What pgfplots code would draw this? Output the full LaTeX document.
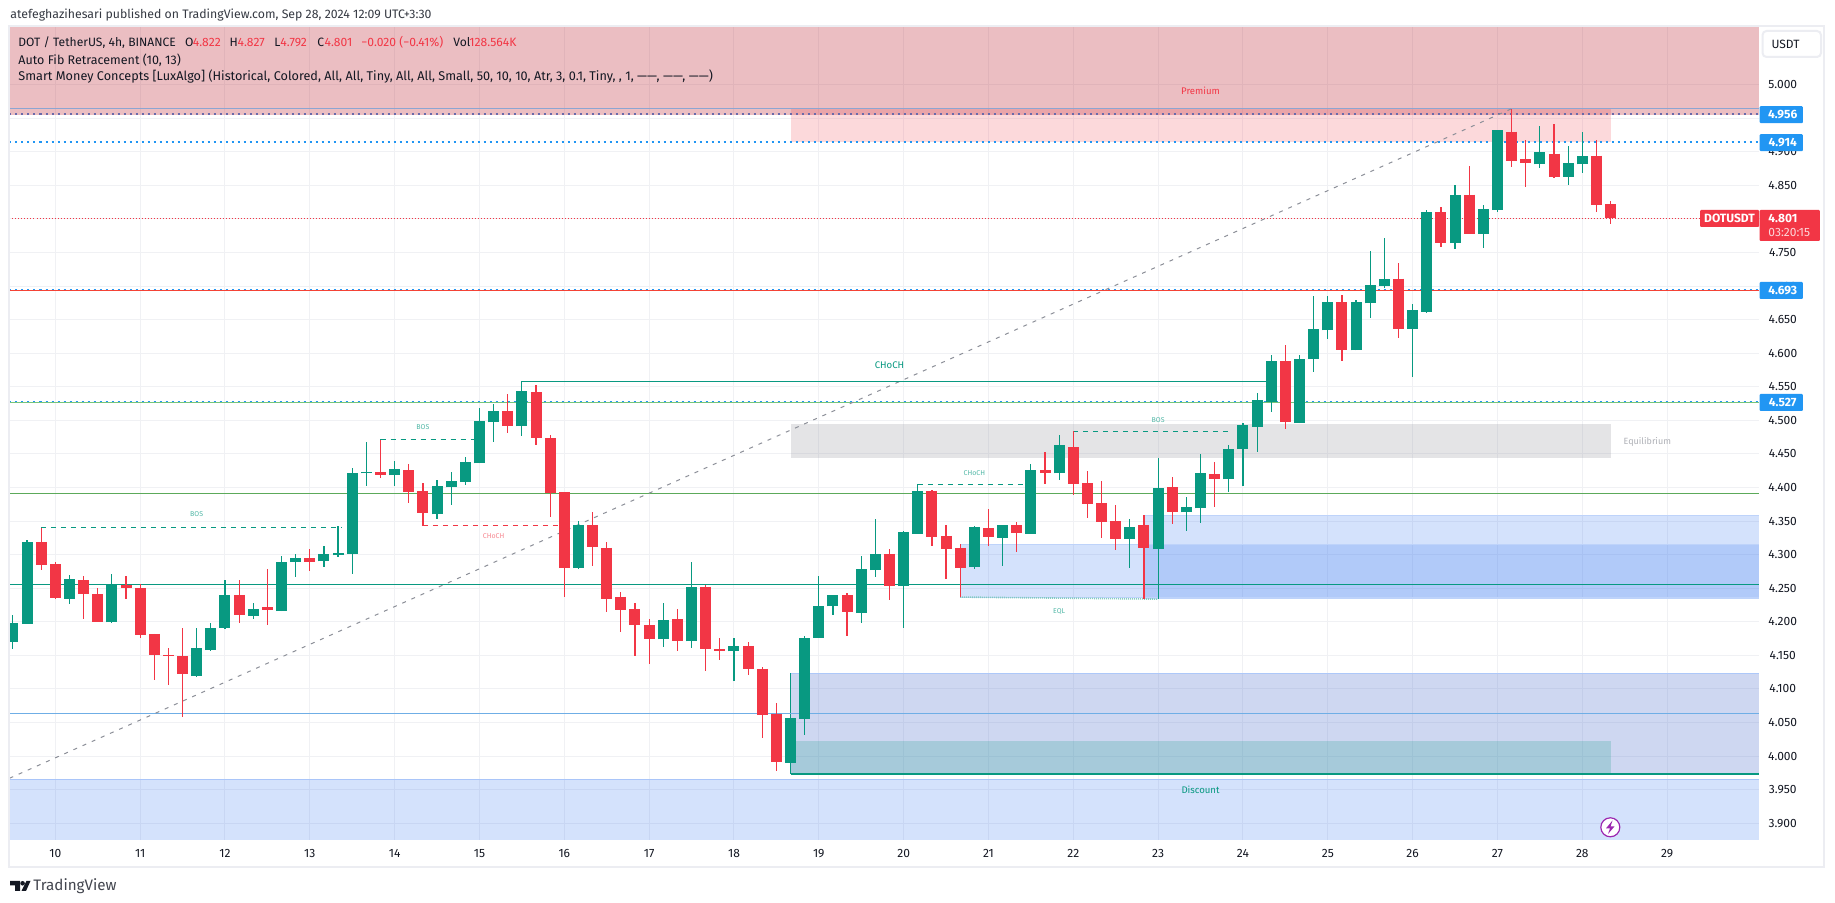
\documentclass[border=0pt]{standalone}
\usepackage{fontspec}
\usepackage{pgfplots}
\usepackage{pgfplotstable}
\pgfplotsset{compat=1.18}
\setmainfont{Fira Sans}

\definecolor{upc}{HTML}{089981}
\definecolor{downc}{HTML}{F23645}
\definecolor{gridc}{HTML}{F0F1F4}
\definecolor{framec}{HTML}{ECEDF2}
\definecolor{txtc}{HTML}{131722}
\definecolor{tagc}{HTML}{2196F3}
\definecolor{zonec}{RGB}{40,110,240}
\definecolor{greyc}{HTML}{787B86}
\definecolor{premc}{RGB}{190,42,54}
\definecolor{demandc}{RGB}{63,99,203}
\definecolor{sblue}{RGB}{111,174,230}
\definecolor{sgreen}{RGB}{92,170,90}
\definecolor{sgreenb}{RGB}{118,196,122}
\definecolor{sred}{RGB}{244,67,54}
\definecolor{dotmix}{RGB}{105,105,170}
\definecolor{topline}{RGB}{140,165,210}
\definecolor{boltc}{RGB}{156,39,176}

% 4h candles, k counts candles from the start of day 10
\pgfplotstableread{
k o h l c
-3 4.170 4.210 4.159 4.198
-2 4.197 4.322 4.197 4.319
1 4.234 4.270 4.226 4.264
4 4.199 4.271 4.198 4.256
10 4.119 4.191 4.118 4.161
11 4.158 4.198 4.156 4.191
12 4.191 4.262 4.189 4.240
14 4.209 4.228 4.204 4.219
16 4.216 4.298 4.216 4.289
17 4.289 4.301 4.267 4.295
19 4.290 4.313 4.281 4.301
20 4.299 4.342 4.296 4.302
21 4.301 4.429 4.271 4.421
22 4.421 4.467 4.402 4.423
24 4.418 4.439 4.402 4.427
27 4.360 4.411 4.353 4.402
28 4.400 4.423 4.374 4.409
29 4.408 4.445 4.403 4.438
30 4.436 4.518 4.436 4.499
31 4.497 4.524 4.467 4.514
33 4.491 4.558 4.476 4.543
37 4.280 4.350 4.278 4.344
43 4.174 4.228 4.162 4.203
45 4.171 4.289 4.161 4.252
48 4.156 4.176 4.112 4.164
52 3.990 4.057 3.990 4.057
53 4.055 4.179 4.031 4.176
54 4.176 4.268 4.176 4.223
55 4.223 4.240 4.210 4.240
57 4.213 4.298 4.198 4.278
58 4.277 4.353 4.267 4.301
60 4.253 4.335 4.191 4.334
61 4.331 4.405 4.331 4.395
65 4.281 4.342 4.278 4.341
67 4.325 4.344 4.283 4.344
69 4.331 4.435 4.331 4.426
71 4.421 4.478 4.411 4.463
76 4.323 4.353 4.280 4.341
78 4.308 4.444 4.234 4.399
80 4.363 4.386 4.335 4.371
81 4.369 4.450 4.347 4.421
83 4.412 4.463 4.393 4.458
84 4.457 4.496 4.402 4.493
85 4.490 4.540 4.453 4.530
86 4.528 4.597 4.512 4.588
88 4.496 4.598 4.496 4.592
89 4.591 4.685 4.572 4.636
90 4.634 4.685 4.621 4.676
92 4.604 4.679 4.604 4.676
93 4.674 4.752 4.653 4.701
94 4.700 4.772 4.697 4.710
96 4.636 4.673 4.564 4.664
97 4.662 4.813 4.661 4.810
99 4.764 4.851 4.755 4.836
101 4.778 4.820 4.756 4.814
102 4.813 4.933 4.810 4.932
105 4.881 4.938 4.875 4.900
107 4.863 4.909 4.851 4.883
108 4.881 4.930 4.869 4.894
}\uptbl

\pgfplotstableread{
k o h l c
-1 4.319 4.340 4.277 4.284
0 4.286 4.289 4.234 4.235
2 4.262 4.268 4.204 4.241
3 4.241 4.250 4.200 4.200
5 4.255 4.268 4.234 4.250
6 4.250 4.257 4.176 4.180
7 4.182 4.182 4.113 4.150
8 4.150 4.161 4.106 4.149
9 4.149 4.191 4.058 4.122
13 4.240 4.262 4.198 4.210
15 4.222 4.278 4.195 4.217
18 4.295 4.308 4.275 4.289
23 4.423 4.471 4.414 4.418
25 4.426 4.435 4.377 4.393
26 4.395 4.406 4.342 4.362
32 4.514 4.539 4.481 4.491
34 4.542 4.552 4.463 4.473
35 4.473 4.478 4.356 4.392
36 4.393 4.393 4.237 4.280
38 4.344 4.363 4.283 4.311
39 4.310 4.319 4.214 4.234
40 4.237 4.244 4.185 4.217
41 4.219 4.228 4.149 4.195
42 4.195 4.204 4.137 4.174
44 4.204 4.219 4.156 4.171
46 4.252 4.255 4.127 4.159
47 4.159 4.176 4.143 4.156
49 4.164 4.170 4.121 4.130
50 4.130 4.133 4.027 4.061
51 4.063 4.079 3.978 3.991
56 4.240 4.243 4.179 4.214
59 4.301 4.308 4.232 4.253
62 4.395 4.397 4.313 4.326
63 4.328 4.344 4.264 4.308
64 4.310 4.316 4.237 4.280
66 4.339 4.368 4.313 4.326
68 4.344 4.348 4.304 4.332
70 4.426 4.453 4.405 4.421
72 4.460 4.484 4.389 4.405
73 4.406 4.424 4.354 4.375
74 4.377 4.409 4.325 4.348
75 4.350 4.374 4.307 4.323
77 4.344 4.359 4.234 4.310
79 4.400 4.415 4.345 4.363
82 4.420 4.438 4.371 4.412
87 4.588 4.612 4.487 4.497
91 4.676 4.686 4.589 4.604
95 4.711 4.734 4.622 4.636
98 4.810 4.817 4.758 4.764
100 4.836 4.878 4.777 4.777
103 4.930 4.964 4.877 4.886
104 4.889 4.918 4.848 4.883
106 4.897 4.941 4.861 4.862
109 4.894 4.917 4.810 4.820
110 4.822 4.827 4.792 4.801
}\downtbl

\newcommand{\fs}[1]{\fontsize{#1}{#1}\selectfont}
% zone: style, x1, x2, y1, y2
\newcommand{\zone}[5]{\addplot[draw=none,#1] coordinates {(#2,#4) (#3,#4) (#3,#5) (#2,#5)} --cycle;}
% level line: style, x1, x2, y
\newcommand{\level}[4]{\addplot[#1] coordinates {(#2,#4) (#3,#4)};}

\begin{document}
\begin{tikzpicture}
\fill[white] (0,0) rectangle (917.5pt,451.5pt);
\begin{axis}[
  at={(4.75pt,31.5pt)}, anchor=south west, scale only axis,
  width=874.75pt, height=406.5pt,
  xmin=-3.24, xmax=120.5, ymin=3.8751, ymax=5.0857,
  axis line style={draw=none}, major tick length=0pt,
  xtick={0,6,...,114},
  xticklabels={10,11,12,13,14,15,16,17,18,19,20,21,22,23,24,25,26,27,28,29},
  ytick={3.9,3.95,4,4.05,4.1,4.15,4.2,4.25,4.3,4.35,4.4,4.45,4.5,4.55,4.6,4.65,4.7,4.75,4.8,4.85,4.9,4.95,5},
  yticklabel pos=right,
  yticklabel style={/pgf/number format/fixed,/pgf/number format/fixed zerofill,/pgf/number format/precision=3,/pgf/number format/assume math mode=true,anchor=center,xshift=11.85pt,font=\fs{6pt},text=txtc,inner sep=0pt},
  xticklabel style={anchor=center,yshift=-6.6pt,font=\fs{6pt},text=txtc,inner sep=0pt},
  grid=major, grid style={color=gridc,line width=0.5pt},
]
% zones
\zone{fill=zonec,fill opacity=0.2}{-3.24}{120.5}{3.8751}{3.9655}
\zone{fill=demandc,fill opacity=0.25}{52}{120.5}{3.973}{4.1232}
\zone{fill=upc,fill opacity=0.2}{52}{110}{3.973}{4.0225}
\zone{fill=zonec,fill opacity=0.2}{77}{120.5}{4.234}{4.358}
\zone{fill=zonec,fill opacity=0.2}{64}{120.5}{4.2368}{4.315}
\zone{fill=greyc,fill opacity=0.2}{52}{110}{4.4436}{4.4948}
\zone{fill=downc,fill opacity=0.19}{52}{110}{4.914}{4.964}
\zone{fill=premc,fill opacity=0.3}{-3.24}{120.5}{4.954}{5.0857}
% zone borders
\level{color=zonec!40,line width=0.5pt}{-3.24}{120.5}{3.9655}
\level{color=zonec!38,line width=0.5pt}{52}{120.5}{4.1232}
\level{color=zonec!30,line width=0.5pt}{77}{120.5}{4.358}
\level{color=zonec!30,line width=0.5pt}{77}{120.5}{4.234}
\level{color=zonec!30,line width=0.5pt}{64}{120.5}{4.315}
\level{color=zonec!30,line width=0.5pt}{64}{120.5}{4.2368}
% levels
\level{color=upc,line width=0.75pt}{52}{120.5}{3.973}
\addplot[color=upc,line width=0.5pt] coordinates {(52,3.973) (52,4.1232)};
\level{color=sblue,line width=0.6pt}{-3.24}{120.5}{4.0637}
\level{color=upc,line width=0.7pt}{-3.24}{120.5}{4.2556}
\level{color=sgreen,line width=0.6pt}{-3.24}{120.5}{4.391}
\level{color=sgreenb,line width=0.7pt}{-3.24}{120.5}{4.5265}
\level{color=tagc,line width=0.4pt,dash pattern=on 1pt off 2pt}{-3.24}{120.5}{4.5285}
\level{color=sred,line width=0.75pt}{-3.24}{120.5}{4.6935}
\level{color=tagc,line width=0.4pt,dash pattern=on 1pt off 2pt}{-3.24}{120.5}{4.6955}
\level{color=downc,line width=0.5pt,dash pattern=on 0.5pt off 1pt}{-3.24}{120.5}{4.801}
\level{color=tagc,line width=1pt,dash pattern=on 1pt off 2pt}{-3.24}{120.5}{4.9145}
\level{color=dotmix,line width=0.9pt,dash pattern=on 1pt off 2pt}{-3.24}{120.5}{4.956}
\level{color=topline,line width=0.7pt}{-3.24}{120.5}{4.964}
% fib line
\addplot[color=greyc!85,line width=0.5pt,dash pattern=on 2pt off 3pt] coordinates {(-3.24,3.967) (103,4.964)};
% structure lines
\level{color=upc,line width=0.5pt,dash pattern=on 2.5pt off 2.5pt}{-1}{20.3}{4.340}
\level{color=upc,line width=0.5pt,dash pattern=on 2.5pt off 2.5pt}{23}{30}{4.471}
\level{color=downc,line width=0.5pt,dash pattern=on 2.5pt off 2.5pt}{26}{36}{4.343}
\level{color=upc,line width=0.5pt,dash pattern=on 2.5pt off 2.5pt}{61}{69}{4.404}
\level{color=upc,line width=0.5pt,dash pattern=on 2.5pt off 2.5pt}{72}{83}{4.483}
\level{color=upc,line width=0.5pt}{33}{86}{4.5585}
\addplot[color=upc!50,line width=0.8pt,dash pattern=on 0.5pt off 0.5pt] coordinates {(64,4.2368) (78,4.2338)};
% candles
\addplot[draw=none,mark=none,error bars/.cd,y dir=both,y explicit,error mark=none,error bar style={color=upc,line width=0.6pt,solid}]
  table[x=k,y=o,y error plus expr=\thisrow{h}-\thisrow{o},y error minus expr=\thisrow{o}-\thisrow{l}] {\uptbl};
\addplot[draw=none,mark=none,error bars/.cd,y dir=both,y explicit,error mark=none,error bar style={color=downc,line width=0.6pt,solid}]
  table[x=k,y=o,y error plus expr=\thisrow{h}-\thisrow{o},y error minus expr=\thisrow{o}-\thisrow{l}] {\downtbl};
\addplot[draw=none,mark=none,error bars/.cd,y dir=plus,y explicit,error mark=none,error bar style={color=upc,line width=5.5pt,solid}]
  table[x=k,y=o,y error plus expr=\thisrow{c}-\thisrow{o}] {\uptbl};
\addplot[draw=none,mark=none,error bars/.cd,y dir=minus,y explicit,error mark=none,error bar style={color=downc,line width=5.5pt,solid}]
  table[x=k,y=o,y error minus expr=\thisrow{o}-\thisrow{c}] {\downtbl};
% zone labels
\node[font=\fs{4.8pt},text=downc] at (81,4.99) {Premium};
\node[font=\fs{4.8pt},text=upc] at (81,3.95) {Discount};
\node[font=\fs{4.5pt},text=greyc!60] at (112.6,4.4677) {Equilibrium};
\node[font=\fs{4.8pt},text=upc] at (59,4.5816) {CHoCH};
\node[font=\fs{3.5pt},text=upc!70] at (10,4.360) {BOS};
\node[font=\fs{3.5pt},text=upc!70] at (26,4.4905) {BOS};
\node[font=\fs{3.5pt},text=upc!70] at (78,4.501) {BOS};
\node[font=\fs{3.5pt},text=downc!60] at (31,4.327) {CHoCH};
\node[font=\fs{3.5pt},text=upc!70] at (65,4.422) {CHoCH};
\node[font=\fs{3.5pt},text=upc!70] at (71,4.215) {EQL};
\end{axis}
% everything below in image pixels
\begin{scope}[yshift=451.5pt,x=0.5pt,y=-0.5pt]
\draw[framec,line width=1pt] (9,26.5) -- (1824,26.5) -- (1824,867.5) -- (9,867.5) -- cycle;
\node[anchor=base west,inner sep=0pt,font=\fs{6.15pt},text=txtc!85] at (10,19) {atefeghazihesari published on TradingView.com, Sep 28, 2024 12:09 UTC+3:30};
\foreach \xp/\tt in {18/{DOT / TetherUS, 4h, BINANCE},184.6/O,229.3/H,274/L,317/C,453/Vol}{
  \node[anchor=base west,inner sep=0pt,font=\fs{6.05pt},text=txtc] at (\xp,47) {\tt};
}
\foreach \xp/\tt in {192.5/4.822,237.2/4.827,280/4.792,324.2/4.801,361/{−0.020 (−0.41\%)},469/128.564K}{
  \node[anchor=base west,inner sep=0pt,font=\fs{6.05pt},text=downc] at (\xp,47) {\tt};
}
\node[anchor=base west,inner sep=0pt,font=\fs{6.25pt},text=txtc] at (18,64.5) {Auto Fib Retracement (10, 13)};
\node[anchor=base west,inner sep=0pt,font=\fs{6.33pt},text=txtc] at (18,81) {Smart Money Concepts [LuxAlgo] (Historical, Colored, All, All, Tiny, All, All, Small, 50, 10, 10, Atr, 3, 0.1, Tiny, , 1, ——, ——, ——)};
% scale button
\draw[framec,line width=1pt,rounded corners=2pt,fill=white] (1762.5,31) rectangle (1821,57);
\node[font=\fs{6pt},text=txtc] at (1785.5,44.3) {USDT};
% price tags
\foreach \yc/\val in {114.7/4.956,142.7/4.914,290.5/4.693,402.5/4.527}{
  \fill[tagc,rounded corners=0.5pt] (1759.7,\yc-8.5) rectangle (1802.8,\yc+8.5);
  \node[font=\bfseries\fs{6pt},text=white] at (1782.7,\yc) {\val};
}
\fill[downc,rounded corners=0.5pt] (1759.7,210) rectangle (1819.8,241);
\fill[downc,rounded corners=0.5pt] (1700,210) rectangle (1759,227);
\node[font=\bfseries\fs{6pt},text=white] at (1729.5,218.7) {DOTUSDT};
\node[anchor=west,inner sep=0pt,font=\bfseries\fs{6pt},text=white] at (1768,218.7) {4.801};
\node[anchor=west,inner sep=0pt,font=\fs{6pt},text=white!80!downc] at (1768,232.7) {03:20:15};
% bolt icon
\draw[fill=white,draw=boltc,line width=0.6pt] (1610.3,827.3) circle (9.5);
\fill[boltc] (1612.5,820.5) -- (1606,828.3) -- (1610,828.3) -- (1608,834) -- (1614.6,826.3) -- (1610.6,826.3) -- cycle;
% logo
\fill[txtc] (10,881) -- (20,881) -- (20,891) -- (15,891) -- (15,885.5) -- (10,885.5) -- cycle;
\fill[txtc] (22.6,883.3) circle (2.3);
\fill[txtc] (26.5,881) -- (30.5,881) -- (26,891) -- (21.5,891) -- cycle;
\node[anchor=base west,inner sep=0pt,font=\fs{7.6pt},text=txtc!80] at (33,891) {TradingView};
\end{scope}
\end{tikzpicture}
\end{document}
